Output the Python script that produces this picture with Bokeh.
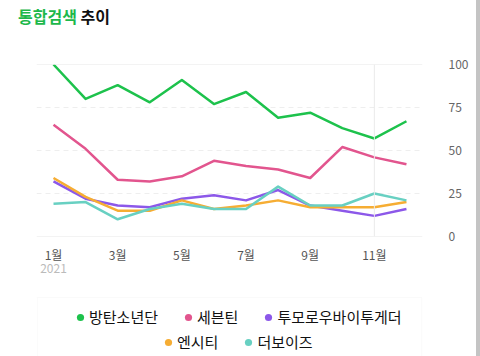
from bokeh.plotting import figure
from bokeh.models import (FixedTicker, Span, Legend, LegendItem, BoxAnnotation,
                          ColumnDataSource, LinearAxis, Div)
from bokeh.layouts import column, row
from bokeh.embed import file_html
from bokeh.resources import INLINE

months = [1, 2, 3, 4, 5, 6, 7, 8, 9, 10, 11, 12]
month_ticks = [1, 3, 5, 7, 9, 11]
month_labels = ["1월", "3월", "5월", "7월", "9월", "11월"]
year_label = "2021"
y_ticks = [0, 25, 50, 75, 100]

names = ["방탄소년단", "세븐틴", "투모로우바이투게더", "엔시티", "더보이즈"]
bts = [100, 80, 88, 78, 91, 77, 84, 69, 72, 63, 57, 67]
svt = [65, 51, 33, 32, 35, 44, 41, 39, 34, 52, 46, 42]
txt = [32, 22, 18, 17, 22, 24, 21, 27, 18, 15, 12, 16]
nct = [34, 23, 15, 15, 21, 16, 18, 21, 17, 17, 17, 20]
tbz = [19, 20, 10, 16, 19, 16, 16, 29, 18, 18, 25, 21]
series = [bts, svt, txt, nct, tbz]
colors = ["#1dc24c", "#e2558e", "#8c58e9", "#f6ad33", "#68d0c2"]

FONT = "Noto Sans CJK KR"

# ---- title ----
title = Div(text='<span style="color:#1db84b">통합검색</span> 추이',
            width=476, height=40, margin=0,
            styles={"font-family": FONT, "font-size": "16px", "font-weight": "bold",
                    "color": "#111111", "padding-left": "18px", "padding-top": "5px",
                    "box-sizing": "border-box"})

# ---- main chart ----
p = figure(width=476, height=245, output_backend="svg", toolbar_location=None,
           x_range=(0.47, 12.5), y_range=(0, 100), y_axis_location="right",
           min_border_left=36, min_border_right=54, min_border_top=24,
           min_border_bottom=49)
p.outline_line_color = None
p.background_fill_color = "white"
p.border_fill_color = "white"

p.xgrid.visible = False
p.ygrid.ticker = FixedTicker(ticks=[25, 50, 75])
p.ygrid.grid_line_color = "#eeeeee"
p.ygrid.grid_line_dash = "5 4"

for v in (0, 100):
    p.add_layout(Span(location=v, dimension="width", line_color="#e8e8e8", line_width=1))
p.add_layout(Span(location=11, dimension="height", line_color="#eaeaea", line_width=1))

xa = p.xaxis[0]
xa.ticker = FixedTicker(ticks=month_ticks)
xa.major_label_overrides = {t: l for t, l in zip(month_ticks, month_labels)}
xa.axis_line_color = None
xa.major_tick_line_color = None
xa.minor_tick_line_color = None
xa.major_label_text_font = FONT
xa.major_label_text_font_size = "12px"
xa.major_label_text_color = "#555555"
xa.major_label_standoff = 3

xa2 = LinearAxis(ticker=FixedTicker(ticks=[1]), major_label_overrides={1: year_label},
                 axis_line_color=None, major_tick_line_color=None,
                 minor_tick_line_color=None, major_label_text_font=FONT,
                 major_label_text_font_size="12px", major_label_text_color="#bbbbbb",
                 major_label_standoff=-8)
p.add_layout(xa2, "below")

ya = p.yaxis[0]
ya.ticker = FixedTicker(ticks=y_ticks)
ya.axis_line_color = None
ya.major_tick_line_color = None
ya.minor_tick_line_color = None
ya.major_label_text_font = FONT
ya.major_label_text_font_size = "12px"
ya.major_label_text_color = "#666666"
ya.major_label_text_align = "center"
ya.major_label_standoff = 20

for name, vals, c in zip(names, series, colors):
    src = ColumnDataSource(dict(x=months, y=vals))
    p.line("x", "y", source=src, line_color=c, line_width=2.5, line_join="round")

# ---- legend panel ----
lf = figure(width=476, height=71, output_backend="svg", toolbar_location=None,
            x_range=(0, 447), y_range=(0, 60),
            min_border_left=17, min_border_right=12, min_border_top=11,
            min_border_bottom=0)
lf.axis.visible = False
lf.grid.visible = False
lf.outline_line_color = None
lf.border_fill_color = "white"
lf.add_layout(BoxAnnotation(left=1, right=446, top=59, bottom=-10, fill_alpha=0,
                            line_color="#eeeeee", line_width=1))

legend_renderers = []
for name, vals, c in zip(names, series, colors):
    src = ColumnDataSource(dict(x=months, y=vals))
    r = lf.scatter("x", "y", source=src, size=0, fill_color=c, line_color=None)
    legend_renderers.append(r)

def make_legend(idx, loc):
    items = [LegendItem(label=names[i], renderers=[legend_renderers[i]]) for i in idx]
    return Legend(items=items, orientation="horizontal", location=loc,
                  glyph_width=18, glyph_height=18, label_standoff=0, spacing=21,
                  padding=0, margin=0, border_line_color=None,
                  background_fill_alpha=0,
                  label_text_font=FONT, label_text_font_size="15px",
                  label_text_color="#111111", label_height=18)

lf.add_layout(make_legend([0, 1, 2], (35, 29)), "center")
lf.add_layout(make_legend([3, 4], (123, 4)), "center")

left = column(title, p, lf, spacing=0)
bar = Div(text="", width=4, height=356, margin=0, styles={"background-color": "#c4c4c4"})
layout = row(left, bar, spacing=0)

open("out.html", "w").write(file_html(layout, INLINE))
